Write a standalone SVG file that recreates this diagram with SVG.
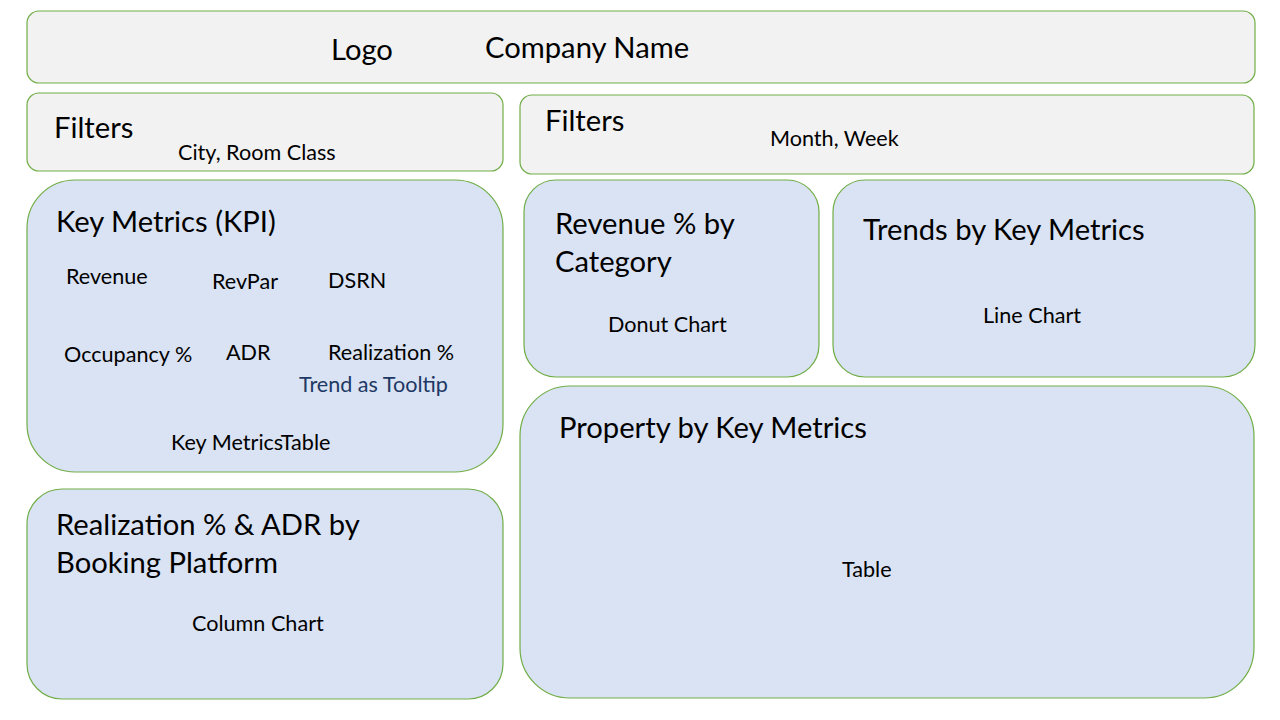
<svg xmlns="http://www.w3.org/2000/svg" width="1280" height="720" viewBox="0 0 1280 720">
<style>
.g{fill:#f2f2f2;stroke:#70ad47;stroke-width:1.2}
.b{fill:#dae3f3;stroke:#70ad47;stroke-width:1.2}
text{font-family:Lato,"Liberation Sans",sans-serif;fill:#000}
.t{font-size:29.2px}
.s{font-size:21.6px}
.blue{fill:#203864}
</style>
<rect width="1280" height="720" fill="#fff"/>
<g id="header"><rect class="g" x="27" y="11" width="1228" height="72" rx="12"/>
<text class="t" x="331" y="60">Logo</text><text class="t" x="485" y="58">Company Name</text></g>
<g id="filters-left"><rect class="g" x="27" y="93" width="476" height="78" rx="12"/>
<text class="t" x="54" y="138">Filters</text><text class="s" x="178" y="160">City, Room Class</text></g>
<g id="filters-right"><rect class="g" x="520" y="95" width="734" height="79" rx="12"/>
<text class="t" x="545" y="131">Filters</text><text class="s" x="770" y="146">Month, Week</text></g>
<g id="kpi"><rect class="b" x="27" y="180" width="476" height="292" rx="48"/>
<text class="t" x="56" y="232">Key Metrics (KPI)</text>
<text class="s" x="66" y="284">Revenue</text>
<text class="s" x="212" y="289">RevPar</text>
<text class="s" x="328" y="288">DSRN</text>
<text class="s" x="64" y="362">Occupancy %</text>
<text class="s" x="226" y="360">ADR</text>
<text class="s" x="328" y="360">Realization %</text>
<text class="s blue" x="299" y="392">Trend as Tooltip</text>
<text class="s" x="171" y="450">Key MetricsTable</text></g>
<g id="realization"><rect class="b" x="27" y="489" width="476" height="210" rx="35"/>
<text class="t" x="56" y="535">Realization % &amp; ADR by</text>
<text class="t" x="56" y="573">Booking Platform</text>
<text class="s" x="192" y="631">Column Chart</text></g>
<g id="revenue-category"><rect class="b" x="524" y="180" width="295" height="197" rx="32"/>
<text class="t" x="555" y="234">Revenue % by</text>
<text class="t" x="555" y="272">Category</text>
<text class="s" x="608" y="332">Donut Chart</text></g>
<g id="trends"><rect class="b" x="833" y="180" width="422" height="197" rx="32"/>
<text class="t" x="863" y="240">Trends by Key Metrics</text>
<text class="s" x="983" y="323">Line Chart</text></g>
<g id="property"><rect class="b" x="520" y="386" width="734" height="312" rx="50"/>
<text class="t" x="559" y="438">Property by Key Metrics</text>
<text class="s" x="842" y="577">Table</text></g>
<g id="connectors"></g>
</svg>
